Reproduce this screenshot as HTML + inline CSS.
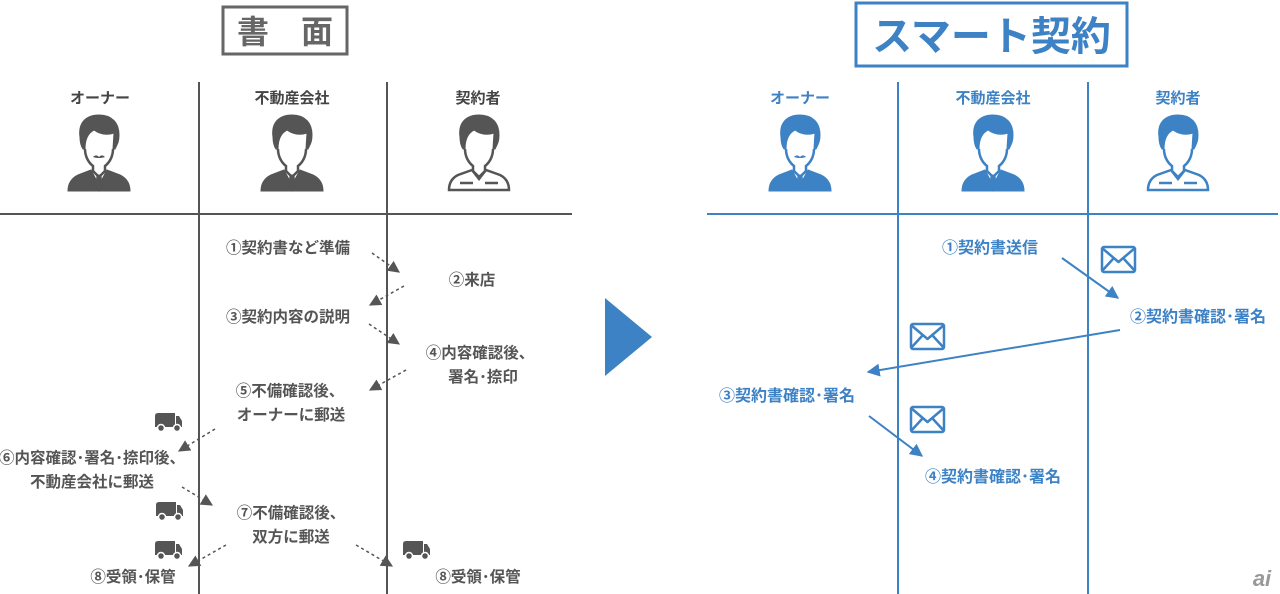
<!DOCTYPE html>
<html><head><meta charset="utf-8">
<style>
html,body{margin:0;padding:0;background:#fff;}
svg{display:block;}
text{font-family:"Liberation Sans","Noto Sans CJK JP",sans-serif;font-weight:bold;}
</style></head>
<body>
<svg width="1280" height="594" viewBox="0 0 1280 594" xmlns="http://www.w3.org/2000/svg">
<defs>
  <marker id="ag" viewBox="0 0 10 10" refX="9" refY="5" markerWidth="8" markerHeight="8" orient="auto"><path d="M0,0L10,5L0,10z" fill="#555"/></marker>
  <marker id="ab" viewBox="0 0 10 10" refX="9" refY="5" markerWidth="6.5" markerHeight="6.5" orient="auto"><path d="M0,0L10,5L0,10z" fill="#3d82c4"/></marker>
  <g id="suit">
    <path d="M31,2 C17,2 10,11 12,24 C12,30 13,33 15,36 L17,36 C17,26 20,20 26,17 C33,22 40,22 46,20 L45,36 L47,36 C50,30 51,28 51,22 C51,10 44,2 31,2Z"/>
    <path d="M23,57 L10,62 C4,65 0,70 0,78 L62,78 C62,70 58,65 52,62 L39,57 L31,72Z"/>
    <path d="M17,36 C17,44 21,50 25,53 L25,58 L31,64 L37,58 L37,53 C41,50 45,44 45,36" fill="none" stroke-width="2.5"/>
    <path d="M29,62 L33,62 L34,74 L31,78 L28,74Z"/>
  </g>
</defs>

<!-- LEFT -->
<rect x="223" y="7" width="124" height="47" fill="#fff" stroke="#666" stroke-width="3"/>
<text x="285" y="43" font-size="32" fill="#666" text-anchor="middle" font-weight="normal">書　面</text>

<g stroke="#555" stroke-width="2">
<line x1="199" y1="82" x2="199" y2="594"/>
<line x1="387" y1="82" x2="387" y2="594"/>
<line x1="0" y1="214" x2="572" y2="214"/>
</g>
<g font-size="15" fill="#444" text-anchor="middle">
<text x="100" y="103">オーナー</text>
<text x="292" y="103">不動産会社</text>
<text x="478" y="103">契約者</text>
</g>

<g fill="#555" stroke="#555">
  <g transform="translate(68,113)"><use href="#suit"/><path d="M25,44 C28,41 30,43 31,44 C32,43 34,41 37,44 C34,45 32,45 31,45 C30,45 28,45 25,44Z" stroke="none"/></g>
  <g transform="translate(261,113)"><use href="#suit"/></g>
  <g transform="translate(448,113)">
    <path d="M31,2 C17,2 10,11 12,24 C12,30 13,33 15,36 L17,36 C17,26 20,20 26,17 C33,22 40,22 46,20 L45,36 L47,36 C50,30 51,28 51,22 C51,10 44,2 31,2Z"/>
    <path d="M17,36 C17,44 21,50 25,53 L25,58 L31,64 L37,58 L37,53 C41,50 45,44 45,36" fill="none" stroke-width="2.5"/>
    <path d="M24,57 L10,62 C4,65 1,70 1,77 L61,77 C61,70 58,65 52,62 L38,57 L31,66Z M12,70 L25,70 M37,70 L50,70" fill="none" stroke-width="2.5"/>
  </g>
</g>

<g font-size="15.5" fill="#555" text-anchor="middle">
<text x="288" y="253">①契約書など準備</text>
<text x="472" y="285">②来店</text>
<text x="288" y="322">③契約内容の説明</text>
<text x="480" y="358">④内容確認後、</text>
<text x="483" y="382">署名･捺印</text>
<text x="290" y="396">⑤不備確認後、</text>
<text x="291" y="420">オーナーに郵送</text>
<text x="92" y="463">⑥内容確認･署名･捺印後、</text>
<text x="92" y="487">不動産会社に郵送</text>
<text x="291" y="518">⑦不備確認後、</text>
<text x="291" y="542">双方に郵送</text>
<text x="133" y="582">⑧受領･保管</text>
<text x="478" y="582">⑧受領･保管</text>
</g>

<g stroke="#555" stroke-width="1.5" stroke-dasharray="3,3" fill="none">
<line x1="372" y1="253" x2="399" y2="272" marker-end="url(#ag)"/>
<line x1="404" y1="286" x2="370" y2="305" marker-end="url(#ag)"/>
<line x1="369" y1="324" x2="399" y2="344" marker-end="url(#ag)"/>
<line x1="406" y1="370" x2="370" y2="390" marker-end="url(#ag)"/>
<line x1="215" y1="429" x2="179" y2="451" marker-end="url(#ag)"/>
<line x1="182" y1="487" x2="212" y2="505" marker-end="url(#ag)"/>
<line x1="226" y1="545" x2="189" y2="566" marker-end="url(#ag)"/>
<line x1="356" y1="545" x2="392" y2="566" marker-end="url(#ag)"/>
</g>

<g fill="#555">
  <g transform="translate(155,413)"><path d="M0,3 Q0,0 3,0 L20,0 L20,14 L0,14Z M21,3 L24,3 L27,8 L27,14 L21,14Z"/><circle cx="6" cy="15" r="3.5" stroke="#fff" stroke-width="1.5"/><circle cx="22" cy="15" r="3.5" stroke="#fff" stroke-width="1.5"/></g>
  <g transform="translate(156,502)"><path d="M0,3 Q0,0 3,0 L20,0 L20,14 L0,14Z M21,3 L24,3 L27,8 L27,14 L21,14Z"/><circle cx="6" cy="15" r="3.5" stroke="#fff" stroke-width="1.5"/><circle cx="22" cy="15" r="3.5" stroke="#fff" stroke-width="1.5"/></g>
  <g transform="translate(155,541)"><path d="M0,3 Q0,0 3,0 L20,0 L20,14 L0,14Z M21,3 L24,3 L27,8 L27,14 L21,14Z"/><circle cx="6" cy="15" r="3.5" stroke="#fff" stroke-width="1.5"/><circle cx="22" cy="15" r="3.5" stroke="#fff" stroke-width="1.5"/></g>
  <g transform="translate(403,541)"><path d="M0,3 Q0,0 3,0 L20,0 L20,14 L0,14Z M21,3 L24,3 L27,8 L27,14 L21,14Z"/><circle cx="6" cy="15" r="3.5" stroke="#fff" stroke-width="1.5"/><circle cx="22" cy="15" r="3.5" stroke="#fff" stroke-width="1.5"/></g>
</g>

<path d="M605,298 L605,376 L652,337Z" fill="#3d82c4"/>

<!-- RIGHT -->
<rect x="856" y="3" width="271" height="63" fill="#fff" stroke="#3d82c4" stroke-width="3"/>
<text x="991.5" y="50" font-size="40" fill="#3d82c4" text-anchor="middle">スマート契約</text>

<g stroke="#3d82c4" stroke-width="2">
<line x1="898" y1="82" x2="898" y2="594"/>
<line x1="1088" y1="82" x2="1088" y2="594"/>
<line x1="707" y1="214" x2="1278" y2="214"/>
</g>
<g font-size="15" fill="#3d82c4" text-anchor="middle">
<text x="800" y="103">オーナー</text>
<text x="993" y="103">不動産会社</text>
<text x="1178" y="103">契約者</text>
</g>
<g fill="#3d82c4" stroke="#3d82c4">
  <g transform="translate(769,113)"><use href="#suit"/><path d="M25,44 C28,41 30,43 31,44 C32,43 34,41 37,44 C34,45 32,45 31,45 C30,45 28,45 25,44Z" stroke="none"/></g>
  <g transform="translate(962,113)"><use href="#suit"/></g>
  <g transform="translate(1147,113)">
    <path d="M31,2 C17,2 10,11 12,24 C12,30 13,33 15,36 L17,36 C17,26 20,20 26,17 C33,22 40,22 46,20 L45,36 L47,36 C50,30 51,28 51,22 C51,10 44,2 31,2Z"/>
    <path d="M17,36 C17,44 21,50 25,53 L25,58 L31,64 L37,58 L37,53 C41,50 45,44 45,36" fill="none" stroke-width="2.5"/>
    <path d="M24,57 L10,62 C4,65 1,70 1,77 L61,77 C61,70 58,65 52,62 L38,57 L31,66Z M12,70 L25,70 M37,70 L50,70" fill="none" stroke-width="2.5"/>
  </g>
</g>

<g font-size="16" fill="#3d82c4" text-anchor="middle">
<text x="990" y="253">①契約書送信</text>
<text x="1198" y="322">②契約書確認･署名</text>
<text x="787" y="401">③契約書確認･署名</text>
<text x="993" y="482">④契約書確認･署名</text>
</g>

<g stroke="#3d82c4" stroke-width="2" fill="none">
<line x1="1062" y1="258" x2="1118" y2="298" marker-end="url(#ab)"/>
<line x1="1120" y1="330" x2="868" y2="372" marker-end="url(#ab)"/>
<line x1="869" y1="416" x2="922" y2="456" marker-end="url(#ab)"/>
</g>

<g stroke="#3d82c4" stroke-width="2.5" fill="#fff" stroke-linejoin="round">
<rect x="1102" y="247" width="33" height="25" rx="2"/><path d="M1102,248 L1118.5,262 L1135,248 M1102,271 L1113,259 M1135,271 L1124,259" fill="none"/>
<rect x="911" y="324" width="33" height="25" rx="2"/><path d="M911,325 L927.5,339 L944,325 M911,348 L922,336 M944,348 L933,336" fill="none"/>
<rect x="911" y="407" width="33" height="25" rx="2"/><path d="M911,408 L927.5,422 L944,408 M911,431 L922,419 M944,431 L933,419" fill="none"/>
</g>

<text x="1262" y="586" font-size="22" fill="#999" font-style="italic" text-anchor="middle" font-family="Liberation Serif, serif">ai</text>
</svg>
</body></html>
